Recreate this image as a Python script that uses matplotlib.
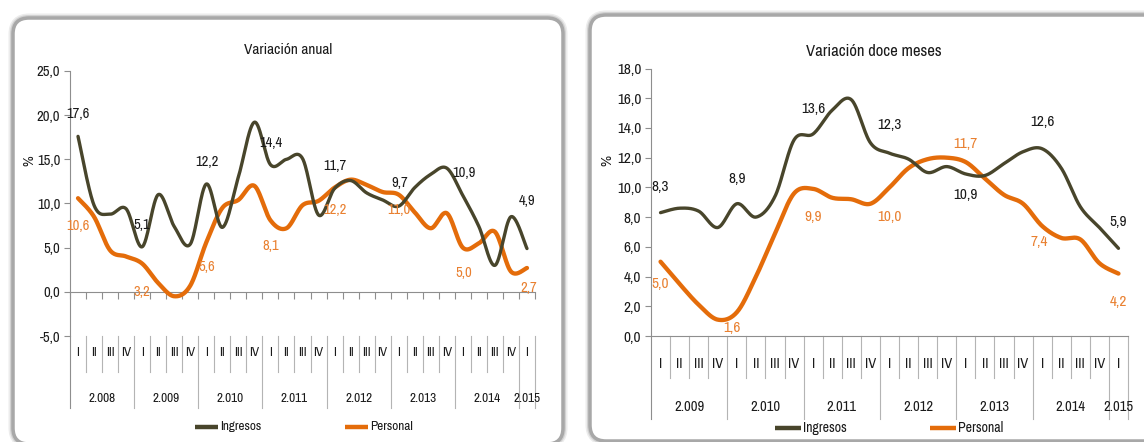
import numpy as np
import matplotlib
matplotlib.use("Agg")
import matplotlib.pyplot as plt
from matplotlib.lines import Line2D
from matplotlib.patches import FancyBboxPatch
from matplotlib.transforms import Affine2D
from matplotlib.ticker import FuncFormatter

plt.rcParams['font.family'] = ['Archivo Narrow', 'Carlito', 'DejaVu Sans']

# ---- data: Variación anual (2008 I .. 2015 I)
quarters_a = ['I', 'II', 'III', 'IV'] * 7 + ['I']
years_a = ['2.008', '2.009', '2.010', '2.011', '2.012', '2.013', '2.014', '2.015']
ingresos_a = [17.6, 9.8, 8.8, 9.4, 5.1, 11.0, 7.4, 5.4, 12.2, 7.3, 13.0, 19.2, 14.4, 15.0, 15.1,
              8.7, 11.7, 12.6, 11.2, 10.4, 9.7, 11.8, 13.3, 14.0, 10.9, 7.4, 3.0, 8.5, 4.9]
personal_a = [10.6, 8.5, 4.7, 4.0, 3.2, 1.0, -0.5, 0.7, 5.6, 9.5, 10.4, 12.0, 8.1, 7.2, 9.8,
              10.3, 11.8, 12.7, 12.1, 11.3, 11.0, 9.0, 7.2, 8.9, 5.0, 5.5, 6.8, 2.3, 2.7]
lbl_idx_a = [0, 4, 8, 12, 16, 20, 24, 28]
ingresos_lbl_a = ['17,6', '5,1', '12,2', '14,4', '11,7', '9,7', '10,9', '4,9']
personal_lbl_a = ['10,6', '3,2', '5,6', '8,1', '12,2', '11,0', '5,0', '2,7']

# ---- data: Variación doce meses (2009 I .. 2015 I)
quarters_d = ['I', 'II', 'III', 'IV'] * 6 + ['I']
years_d = ['2.009', '2.010', '2.011', '2.012', '2.013', '2.014', '2.015']
ingresos_d = [8.3, 8.6, 8.4, 7.3, 8.9, 8.0, 9.4, 13.2, 13.6, 15.2, 15.9, 13.0, 12.3,
              11.9, 11.0, 11.4, 10.9, 10.8, 11.6, 12.4, 12.6, 11.3, 8.7, 7.3, 5.9]
personal_d = [5.0, 3.5, 2.1, 1.1, 1.6, 4.0, 6.9, 9.6, 9.9, 9.3, 9.2, 8.9, 10.0,
              11.3, 11.9, 12.0, 11.7, 10.6, 9.5, 8.9, 7.4, 6.6, 6.5, 4.9, 4.2]
lbl_idx_d = [0, 4, 8, 12, 16, 20, 24]
ingresos_lbl_d = ['8,3', '8,9', '13,6', '12,3', '10,9', '12,6', '5,9']
personal_lbl_d = ['5,0', '1,6', '9,9', '10,0', '11,7', '7,4', '4,2']

# label offsets in pixels
ing_off_a = [(0, 22), (0, 22), (1, 22), (0, 22), (0, 22), (1, 23), (1, 23), (0, 48)]
per_off_a = [(0, -28), (0, -28), (0, -25), (0, -26), (0, -22), (0, -15), (1, -25), (2, -20)]
ing_off_d = [(0, 26), (0, 25), (0, 25), (0, 28), (0, -21), (0, 27), (0, 26)]
per_off_d = [(0, -22), (-5, -16), (0, -28), (0, -30), (0, 18), (-3, -16), (0, -28)]

DARK = '#48452B'
ORANGE = '#E46C0A'
ORANGE_TXT = '#E98030'
GRAY = '#8E8E8E'
SEP = '#B4B4B4'
TXT = '#1A1A1A'

W, H = 1144, 442
fig = plt.figure(figsize=(W / 100, H / 100), dpi=100)
px = Affine2D().scale(1 / W, -1 / H).translate(0, 1) + fig.transFigure


def smooth(y, n=30):
    # Excel-like smoothed line (Bezier through the points)
    y = np.asarray(y, float)
    x = np.arange(len(y), dtype=float)
    P = np.column_stack([x, y])
    Pp = np.vstack([P[0], P, P[-1]])
    t = np.linspace(0, 1, n)[:, None]
    out = []
    for i in range(len(P) - 1):
        p0, p1, p2, p3 = Pp[i], Pp[i + 1], Pp[i + 2], Pp[i + 3]
        c1 = p1 + (p2 - p0) / 6
        c2 = p2 - (p3 - p1) / 6
        seg = ((1 - t) ** 3) * p1 + 3 * ((1 - t) ** 2) * t * c1 + 3 * (1 - t) * t ** 2 * c2 + t ** 3 * p2
        out.append(seg)
    c = np.vstack(out)
    return c[:, 0], c[:, 1]


def panel(x0, y0, x1, y1):
    for lw, col in [(9, '#ececec'), (6, '#d2d2d2'), (3.5, '#a8a8a8')]:
        p = FancyBboxPatch((x0, y0), x1 - x0, y1 - y0,
                           boxstyle='round,pad=0,rounding_size=16',
                           transform=px, facecolor='white', edgecolor=col,
                           linewidth=lw * 0.72, zorder=0)
        fig.add_artist(p)


panel(13, 18, 563, 444)
panel(590, 15, 1175, 441)

fmt = FuncFormatter(lambda v, p: f"{v:.1f}".replace('.', ','))


def draw(rect, ing, per, quarters, years, ylim, ystep, q_y, y_y, short_y, full_y,
         zero_axis, lbl_idx, ing_lbl, per_lbl, ing_off, per_off, fs_tick, fs_cat, fs_lbl):
    x0, y0, x1, y1 = rect
    ax = fig.add_axes([x0 / W, 1 - y1 / H, (x1 - x0) / W, (y1 - y0) / H])
    ax.set_facecolor('none')
    n = len(ing)
    ax.set_xlim(-0.5, n - 0.5)
    ax.set_ylim(*ylim)
    for s in ['top', 'right']:
        ax.spines[s].set_visible(False)
    ax.spines['left'].set_color(GRAY)
    ax.spines['bottom'].set_color(GRAY)
    if zero_axis:
        ax.spines['bottom'].set_position(('data', 0))
    ax.set_yticks(np.arange(ylim[0], ylim[1] + 0.01, ystep))
    ax.yaxis.set_major_formatter(fmt)
    ax.tick_params(axis='y', length=4, color=GRAY, labelsize=fs_tick, labelcolor=TXT, pad=3)
    ax.set_xticks(np.arange(-0.5, n, 1.0))
    ax.tick_params(axis='x', length=5 if zero_axis else 0, color=GRAY, labelbottom=False)

    # category labels and separators
    tr = ax.get_xaxis_transform()
    for i, q in enumerate(quarters):
        ax.text(i, q_y, q, transform=tr, ha='center', va='center', fontsize=fs_cat, color=TXT)
    starts = [i for i, q in enumerate(quarters) if q == 'I']
    for k, yr in enumerate(years):
        a = starts[k]
        b = starts[k + 1] - 1 if k + 1 < len(starts) else n - 1
        ax.text((a + b) / 2, y_y, yr, transform=tr, ha='center', va='center', fontsize=fs_cat, color=TXT)
    for j in range(n + 1):
        full = j in starts or j == n
        ax.plot([j - 0.5, j - 0.5], [0, full_y if full else short_y], transform=tr,
                color=GRAY if j == 0 else SEP, lw=0.8, clip_on=False)

    xs, ys = smooth(per)
    ax.plot(xs, ys, color=ORANGE, lw=3.1, solid_capstyle='round', zorder=3)
    xs, ys = smooth(ing)
    ax.plot(xs, ys, color=DARK, lw=2.4, solid_capstyle='round', zorder=4)

    for k, i in enumerate(lbl_idx):
        ax.annotate(ing_lbl[k], (i, ing[i]), xytext=ing_off[k], textcoords='offset pixels',
                    ha='center', va='center', fontsize=fs_lbl, color=TXT, zorder=5)
        ax.annotate(per_lbl[k], (i, per[i]), xytext=per_off[k], textcoords='offset pixels',
                    ha='center', va='center', fontsize=fs_lbl, color=ORANGE_TXT, zorder=5)
    return ax


axA = draw((70, 71, 535, 336), ingresos_a, personal_a, quarters_a, years_a, (-5, 25), 5,
           -0.064, -0.234, -0.136, -0.272, True, lbl_idx_a, ingresos_lbl_a, personal_lbl_a,
           ing_off_a, per_off_a, 10.5, 9.5, 10.5)
axD = draw((651, 68.5, 1128, 336), ingresos_d, personal_d, quarters_d, years_d, (0, 18), 2,
           -0.105, -0.265, -0.157, -0.310, False, lbl_idx_d, ingresos_lbl_d, personal_lbl_d,
           ing_off_d, per_off_d, 11, 10.5, 11)

# titles and axis names
fig.text(288 / W, 1 - 50 / H, 'Variación anual', ha='center', va='center', fontsize=11, color=TXT)
fig.text(874 / W, 1 - 52 / H, 'Variación doce meses', ha='center', va='center', fontsize=12, color=TXT)
fig.text(29 / W, 1 - 161 / H, '%', rotation=90, ha='center', va='center', fontsize=10.5, color=TXT)
fig.text(607 / W, 1 - 160 / H, '%', rotation=90, ha='center', va='center', fontsize=11, color=TXT)

# legends
def legend_item(x0, x1, y, col, label, fs):
    fig.add_artist(Line2D([x0, x1], [y, y], transform=px, color=col, lw=3.2, solid_capstyle='butt'))
    fig.text((x1 + 2) / W, 1 - y / H, label, ha='left', va='center', fontsize=fs, color=TXT)


legend_item(195, 218, 427, DARK, 'Ingresos', 9.5)
legend_item(345, 368, 427, ORANGE, 'Personal', 9.5)
legend_item(775, 801, 428, DARK, 'Ingresos', 10)
legend_item(930, 956, 428, ORANGE, 'Personal', 10)

fig.savefig('out.png', dpi=100)
